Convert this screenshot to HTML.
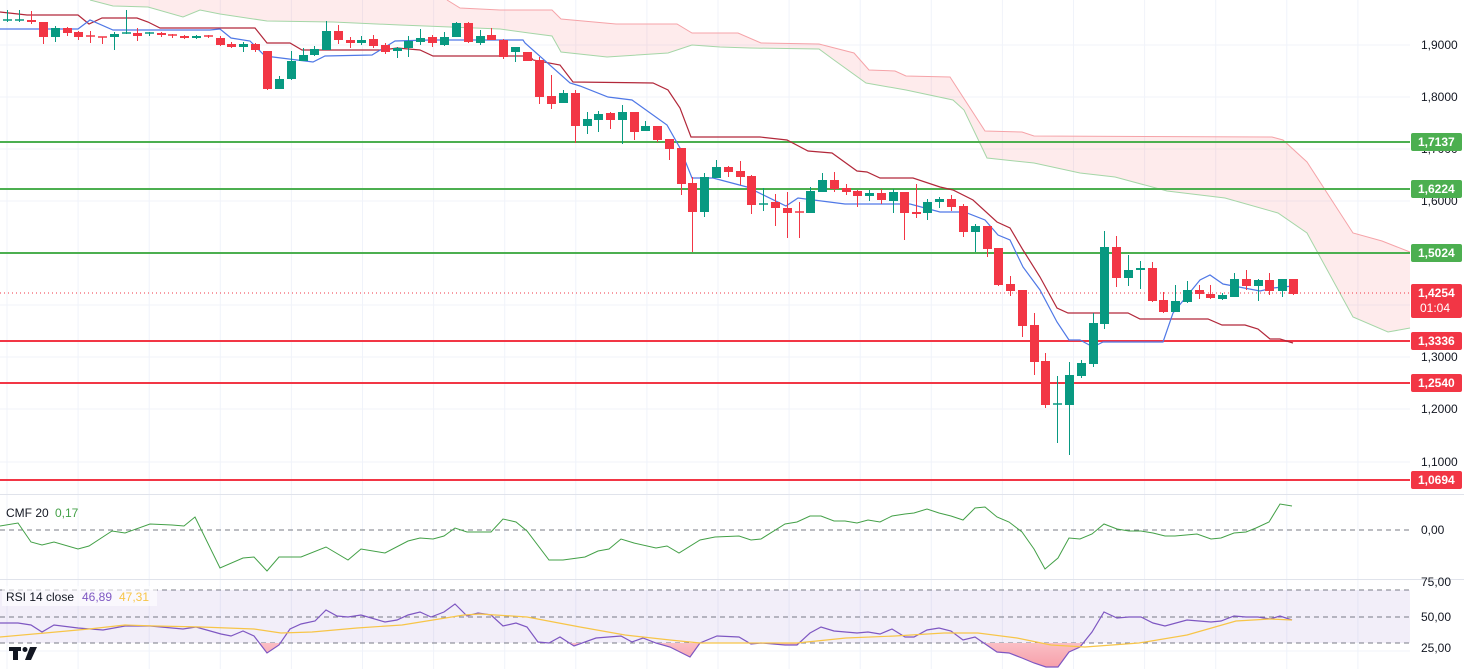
<!DOCTYPE html>
<html><head><meta charset="utf-8"><style>
html,body{margin:0;padding:0;background:#fff;}
svg{display:block;font-family:"Liberation Sans",sans-serif;}
</style></head><body>
<svg id="s" width="1464" height="669" xmlns="http://www.w3.org/2000/svg">
<rect width="1464" height="669" fill="#fff"/>
<g id="grid" stroke="#f0f3fa" stroke-width="1"></g>
<!-- cloud -->
<polygon fill="rgba(242,54,69,0.1)" points="90,0 447,0 460,8 500,10 552,10 561,19 616,24 677,24 692,33 738,33 761,43 819,44 854,53 869,70 895,71 906,76 950,77 985,131 1022,132 1034,136 1272,137 1283,140 1307,162 1353,233 1382,241 1410,252 1410,328 1388,332 1353,317 1307,233 1278,213 1225,198 1167,191 1115,177 1080,173 1034,163 987,158 964,110 953,100 906,90 866,83 834,60 819,49 750,48 720,47 692,45 668,53 607,57 561,52 552,36 529,33 500,29 400,25 333,22 267,21 220,14 200,10 183,17 148,7 113,6 90,0"/>
<polyline fill="none" stroke="#f5a3a8" stroke-width="1" points="447,0 460,8 500,10 552,10 561,19 616,24 677,24 692,33 738,33 761,43 819,44 854,53 869,70 895,71 906,76 950,77 985,131 1022,132 1034,136 1272,137 1283,140 1307,162 1353,233 1382,241 1410,252"/>
<polyline fill="none" stroke="#a5d6a7" stroke-width="1" points="90,0 113,6 148,7 183,17 200,10 220,14 267,21 333,22 400,25 500,29 529,33 552,36 561,52 607,57 668,53 692,45 720,47 750,48 819,49 834,60 866,83 906,90 953,100 964,110 987,158 1034,163 1080,173 1115,177 1167,191 1225,198 1278,213 1307,233 1353,317 1388,332 1410,328"/>
<!-- levels -->
<g stroke-width="2">
<line x1="0" x2="1410" y1="142" y2="142" stroke="#4caf50"/>
<line x1="0" x2="1410" y1="189" y2="189" stroke="#4caf50"/>
<line x1="0" x2="1410" y1="253" y2="253" stroke="#4caf50"/>
<line x1="0" x2="1410" y1="341" y2="341" stroke="#f23645"/>
<line x1="0" x2="1410" y1="383" y2="383" stroke="#f23645"/>
<line x1="0" x2="1410" y1="480" y2="480" stroke="#f23645"/>
</g>
<line x1="0" x2="1410" y1="293" y2="293" stroke="#f23645" stroke-width="1" stroke-dasharray="1,3"/>
<!-- kijun -->
<polyline fill="none" stroke="#b2283a" stroke-width="1.2" points="0,12 27,15 78,15 89,24 102,18 137,18 148,22 160,28 255,28 267,43 290,43 302,50 383,50 397,48 420,50 433,56 530,56 533,60 560,65 573,82 653,83 668,90 680,108 691,137 760,137 787,140 808,151 832,153 857,171 867,172 880,178 913,178 940,187 953,190 973,200 997,222 1010,228 1023,250 1040,277 1057,308 1068,313 1128,313 1140,319 1208,319 1222,325 1245,325 1258,329 1270,339 1280,339 1293,343"/>
<!-- tenkan -->
<polyline fill="none" stroke="#4f78e6" stroke-width="1.2" points="0,29 78,29 90,20 113,30 210,30 220,29 231,38 250,41 265,56 313,62 325,56 372,55 395,41 430,40 523,40 525,43 570,83 580,86 608,97 632,100 667,125 680,148 692,178 713,178 747,187 786,206 798,198 845,204 910,204 940,212 960,212 967,213 985,220 998,235 1010,240 1023,267 1040,290 1057,322 1069,340 1080,340 1093,347 1103,342 1163,342 1173,313 1200,280 1210,275 1223,284 1260,291 1273,288 1293,286"/>
<g id="candles"></g>
<!-- pane separators -->
<line x1="0" x2="1464" y1="494.5" y2="494.5" stroke="#e0e3eb"/>
<line x1="0" x2="1464" y1="579.5" y2="579.5" stroke="#e0e3eb"/>
<!-- CMF -->
<line x1="0" x2="1410" y1="530" y2="530" stroke="#787b86" stroke-dasharray="5,4"/>
<polyline fill="none" stroke="#43a047" stroke-width="1" points="0,526 18,523 31,542 42,545 54,542 78,549 89,546 112,531 125,533 150,524 172,525 184,526 195,517 220,568 243,558 254,557 267,571 279,557 301,557 326,547 348,560 361,549 385,553 408,541 420,538 433,539 444,536 455,528 467,532 491,532 503,519 516,522 527,531 549,560 563,560 585,557 598,551 609,549 621,539 634,543 656,548 667,546 679,553 700,540 715,537 739,536 751,540 761,539 785,524 797,522 810,516 821,516 834,521 845,521 857,523 868,520 880,522 892,516 905,514 914,513 927,509 939,513 951,516 963,520 975,508 985,507 997,517 1009,522 1022,532 1034,549 1045,569 1058,558 1069,538 1080,539 1092,534 1104,524 1117,529 1129,531 1141,531 1153,533 1165,536 1175,536 1197,534 1211,539 1221,538 1234,533 1246,532 1256,528 1269,522 1280,504 1292,506"/>
<text x="6" y="517" font-size="12" fill="#131722">CMF 20</text>
<text x="55" y="517" font-size="12" fill="#43a047">0,17</text>
<!-- RSI -->
<rect x="0" y="590" width="1410" height="53" fill="rgba(126,87,194,0.1)"/>
<line x1="0" x2="1410" y1="590" y2="590" stroke="#787b86" stroke-dasharray="5,4"/>
<line x1="0" x2="1410" y1="617" y2="617" stroke="#787b86" stroke-dasharray="5,4"/>
<line x1="0" x2="1410" y1="643" y2="643" stroke="#787b86" stroke-dasharray="5,4"/>
<defs><clipPath id="lo"><rect x="0" y="643" width="1410" height="30"/></clipPath>
<linearGradient id="pg" x1="0" y1="0" x2="0" y2="1"><stop offset="0" stop-color="#fff0f1"/><stop offset="1" stop-color="#f7a0aa"/></linearGradient></defs>
<g id="rsi"></g>
<polyline fill="none" stroke="#f7c548" stroke-width="1.2" points="0,637 45,633 89,629 125,625 156,626 201,627 254,629 281,633 312,632 357,628 402,625 433,620 464,615 480,614 527,617 580,627 625,635 670,640 700,643 797,643 846,638 895,636 944,633 978,633 1017,638 1051,645 1085,647 1139,643 1187,635 1236,621 1270,619 1292,620"/>
<rect x="2" y="586" width="155" height="20" fill="rgba(255,255,255,0.6)"/>
<text x="6" y="601" font-size="12" fill="#131722">RSI 14 close</text>
<text x="82" y="601" font-size="12" fill="#7e57c2">46,89</text>
<text x="119" y="601" font-size="12" fill="#f7c548">47,31</text>
<!-- logo -->
<g fill="#131722"><rect x="9" y="647" width="12" height="4"/><rect x="13" y="647" width="5" height="13"/><circle cx="25" cy="649.5" r="2.5"/><polygon points="30,647 37,647 31,660 25,660"/></g>
<!-- axis -->
<g id="axis" font-size="12" fill="#131722"></g>
</svg>
<script>
var ns="http://www.w3.org/2000/svg";
function el(p,t,a,txt){var e=document.createElementNS(ns,t);for(var k in a)e.setAttribute(k,a[k]);if(txt!=null)e.textContent=txt;p.appendChild(e);return e;}
var g=document.getElementById('grid');
for(var i=0;i<20;i++){var x=7+71.1*i;if(x>1410)break;el(g,'line',{x1:x,x2:x,y1:0,y2:669});}
[45,97,149,201,253,305,357,409,462].forEach(function(y){el(g,'line',{x1:0,x2:1410,y1:y,y2:y});});
el(g,'line',{x1:0,x2:1410,y1:651,y2:651});
var C=[[7,21,20,10,22],[19,21,20,10,22],[31,20,22,11,24],[43,22,37,22,44],[55,37,28,26,42],[67,28,33,27,36],[78,32,37,31,40],[90,36,37,31,43],[102,37,38,37,44],[114,37,34,32,50],[126,34,33,10,34],[137,33,36,28,41],[149,34,33,32,36],[161,33,35,32,37],[172,35,36,34,38],[184,36,38,35,39],[196,38,36,35,39],[208,36,37,35,38],[220,38,45,36,46],[231,44,47,42,48],[243,47,44,42,52],[255,44,50,43,52],[267,51,89,51,90],[279,89,79,76,89],[291,79,61,51,80],[303,61,55,48,61],[314,55,49,46,56],[326,50,31,21,50],[338,31,40,25,44],[350,40,43,37,48],[361,43,40,36,45],[373,39,46,35,48],[385,45,52,43,54],[397,51,48,47,58],[408,48,41,36,57],[420,42,38,29,45],[432,37,43,35,47],[444,45,37,32,46],[456,37,23,22,37],[468,23,42,22,43],[480,43,36,30,45],[491,35,40,28,40],[503,40,57,39,59],[515,52,47,47,62],[527,52,61,52,61],[539,60,97,57,104],[551,96,104,75,109],[563,103,93,90,103],[575,93,126,90,143],[587,126,119,112,134],[598,120,114,111,132],[610,113,120,112,129],[622,120,112,105,144],[634,112,132,112,140],[645,131,126,121,131],[657,126,140,126,142],[669,139,149,139,160],[681,148,184,148,195],[692,183,212,177,252],[704,212,177,173,217],[716,178,167,160,178],[728,167,172,166,177],[740,171,177,161,185],[751,176,205,175,214],[763,205,204,188,211],[775,202,208,194,226],[787,208,213,192,238],[799,212,213,202,238],[810,213,191,187,213],[822,192,180,173,192],[834,180,189,172,192],[846,188,192,184,195],[857,191,196,190,207],[869,196,193,190,201],[881,193,200,189,204],[893,201,192,189,213],[904,192,213,192,240],[916,212,214,184,218],[927,213,202,199,220],[939,202,199,197,208],[951,199,207,195,211],[963,206,232,204,237],[975,232,226,224,252],[987,226,249,226,257],[998,248,285,248,286],[1010,284,291,276,296],[1022,290,326,290,337],[1034,325,362,313,375],[1045,361,405,353,408],[1057,405,404,376,443],[1069,405,375,362,455],[1081,376,363,360,378],[1093,364,323,313,367],[1104,324,247,231,329],[1116,247,278,236,287],[1128,278,270,255,286],[1140,270,268,261,289],[1152,268,301,262,302],[1163,300,312,292,313],[1175,312,301,285,312],[1187,302,290,281,303],[1199,290,294,285,299],[1210,294,298,285,299],[1222,299,295,293,300],[1234,297,279,273,297],[1246,279,286,270,290],[1258,286,280,279,301],[1269,280,291,273,295],[1282,291,279,279,297],[1293,279,294,279,295]];
var cg=document.getElementById('candles');
C.forEach(function(c){var up=c[2]<=c[1];var col=up?'#089981':'#f23645';var x=c[0];
el(cg,'line',{x1:x+.5,x2:x+.5,y1:c[3],y2:c[4],stroke:col,'stroke-width':1});
var t=Math.min(c[1],c[2]),b=Math.max(c[1],c[2]);if(b-t<1.5){t-=0.75;b=t+1.5;}
el(cg,'rect',{x:x-4,y:t,width:9,height:b-t,fill:col});});
var R="0,623 18,623 31,625 42,632 54,625 78,628 103,630 125,626 150,626 183,629 196,627 221,634 231,636 243,631 254,636 267,653 279,645 290,629 301,624 315,621 326,610 337,616 348,617 361,615 385,622 397,620 408,615 420,612 431,617 444,612 455,604 467,616 478,613 491,615 503,626 516,623 527,627 538,642 549,643 560,637 574,646 596,638 621,636 632,642 643,638 656,643 670,647 690,657 700,643 717,636 739,637 751,644 761,643 785,645 797,645 810,633 821,627 834,631 857,633 868,632 880,634 892,629 905,637 914,637 927,630 939,628 951,631 963,640 975,637 997,652 1009,653 1022,658 1034,663 1046,667 1058,667 1069,652 1080,647 1092,632 1104,612 1117,618 1129,617 1141,617 1153,623 1165,626 1187,620 1211,622 1221,621 1234,616 1246,617 1258,617 1270,619 1280,616 1292,620";
var rg=document.getElementById('rsi');
el(rg,'polygon',{points:R+" 1292,643 0,643",fill:'url(#pg)','clip-path':'url(#lo)'});
el(rg,'polyline',{points:R,fill:'none',stroke:'#7e57c2','stroke-width':1.2});
var ax=document.getElementById('axis');
[["1,9000",45],["1,8000",97],["1,7000",149],["1,6000",201],["1,3000",357],["1,2000",409],["1,1000",462],["0,00",530],["75,00",582],["50,00",617],["25,00",648]].forEach(function(l){el(ax,'text',{x:1421,y:l[1]+4},l[0]);});
function badge(y,col,txt){el(ax,'rect',{x:1411,y:y-9,width:51,height:18,fill:col,rx:2});el(ax,'text',{x:1418,y:y+4,fill:'#fff','font-weight':'bold'},txt);}
badge(142,'#4caf50','1,7137');badge(189,'#4caf50','1,6224');badge(253,'#4caf50','1,5024');
badge(341,'#f23645','1,3336');badge(383,'#f23645','1,2540');badge(480,'#f23645','1,0694');
el(ax,'rect',{x:1411,y:284,width:51,height:34,fill:'#f23645',rx:2});
el(ax,'text',{x:1418,y:297,fill:'#fff','font-weight':'bold'},'1,4254');
el(ax,'text',{x:1420,y:312,fill:'#fff'},'01:04');
</script>
</body></html>
